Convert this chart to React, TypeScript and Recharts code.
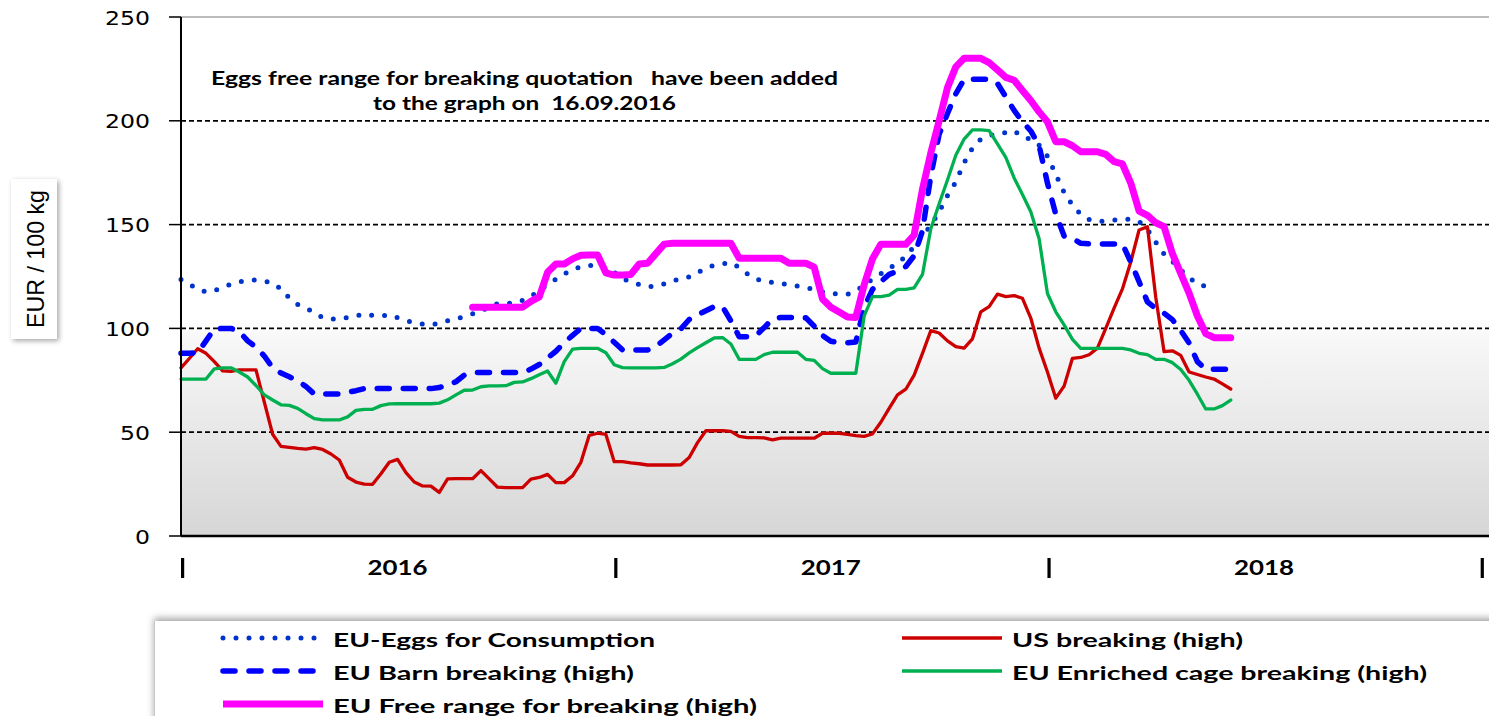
import React from "react";
import { CartesianGrid, Line, LineChart, ReferenceLine, XAxis, YAxis } from "recharts";

const W = 1489;
const H = 716;

// x = week index, 0 = first week of 2016
const weeks = Array.from({ length: 127 }, (_, i) => i);
const years = ["2016", "2017", "2018"];
const yTicks = [0, 50, 100, 150, 200, 250];
const xTicks = [0, 26, 52, 78, 104, 130, 156];

const eggsConsumption = [
  123.5, 121.3, 119, 117.5, 118.3, 119.6, 121.4, 122.4, 123.1, 123.3,
  122.8, 121.9, 119, 114.6, 111.5, 109.6, 107.8, 105.1, 104.5, 104.5,
  105.2, 106, 107, 106.3, 106, 106.5, 105.1, 103.7, 102.8, 102.1,
  101.7, 102.6, 103.7, 104.5, 105.8, 107, 108.2, 110.5, 111.9, 111.9,
  112.3, 113.5, 115.3, 118.5, 121, 123.7, 126.2, 128.4, 129.6, 130.3,
  130, 129, 127, 124, 122.3, 121.2, 120.1, 120.4, 121.5, 123.1,
  123.6, 124.8, 126.8, 129.2, 130.4, 131.1, 131.7, 129.3, 126.2, 123.8,
  122.8, 122.1, 121.6, 121, 120.4, 119.6, 118.7, 117.7, 116.8, 116.5,
  116.4, 118, 120.8, 123.8, 126.3, 128.8, 131.5, 134.7, 139.5, 144.5,
  149.6, 156.2, 164, 170.5, 179.8, 186.9, 191.2, 192.9, 193.5, 194.4,
  195.2, 192.2, 191.1, 188.2, 183, 174.2, 165.5, 159.4, 154.9, 152.5,
  151.6, 151.7, 152.2, 152.6, 152.5, 151.5, 147.7, 141.5, 135.8, 132.3,
  128.2, 124.5, 121.5, 120.2, 119.2,
];

const usBreaking = [
  81, 85.5, 90.2, 88, 84, 79.5, 79.3, 80, 80, 80,
  64.5, 49, 43.2, 42.7, 42.2, 41.8, 42.6, 41.7, 39.5, 36.6,
  28.3, 26, 25, 24.9, 30, 35.5, 36.9, 30.5, 26, 24.1,
  24, 21, 27.5, 27.6, 27.6, 27.6, 31.5, 27.5, 23.5, 23.3,
  23.3, 23.3, 27.4, 28.2, 29.7, 25.7, 25.7, 29, 35.5, 48.5,
  49.5, 48.9, 35.8, 35.8, 35.2, 34.8, 34.2, 34.2, 34.2, 34.2,
  34.3, 37.8, 45, 50.7, 50.7, 50.7, 50.4, 48, 47.4, 47.4,
  47.3, 46.3, 47.1, 47.1, 47.1, 47.1, 47.1, 49.5, 49.5, 49.5,
  49, 48.4, 48, 49.2, 54.8, 61.5, 68, 70.7, 77.5, 88,
  98.9, 97.8, 94, 91.2, 90.5, 95, 108, 110.5, 116.5, 115.3,
  115.8, 114.5, 105, 90.5, 79, 66.4, 72.2, 85.6, 86, 87.3,
  90.5, 100, 109.8, 119, 132, 147.4, 149, 115, 88.8, 89.2,
  87, 79, 77.8, 76.6, 75.6, 73.3, 70.8,
];

const barnBreaking = [
  88, 88, 88.3, 94, 99.8, 100, 100, 98.5, 94, 91,
  86.7, 81, 78.5, 76.7, 74.8, 72, 68.4, 68.4, 68.4, 68.4,
  69.2, 70, 71, 71, 71, 71, 71, 71, 71, 71,
  71, 71.5, 72.8, 74.3, 77.5, 78.7, 78.7, 78.7, 78.7, 78.7,
  78.7, 78.7, 80.4, 82.6, 85.8, 89, 93.2, 96.6, 100, 100,
  100, 97, 93.3, 89.6, 89.6, 89.6, 89.6, 91.3, 94.5, 97.7,
  99.8, 104.3, 106.5, 108.5, 110.5, 110.5, 103.6, 96, 96, 96.5,
  100.4, 104.5, 105.3, 105.3, 105.3, 105.1, 101.1, 96.6, 93.8, 93.1,
  93.1, 93.5, 110, 118.8, 122.5, 126, 127.6, 129.8, 135, 147,
  173.5, 193.5, 203.5, 213, 220, 220, 220, 220, 218, 211.5,
  205, 199.6, 195.1, 188, 170, 155, 144.5, 143.4, 141, 140.7,
  140.7, 140.7, 140.7, 140.7, 132, 122.5, 112.8, 109.5, 107.3, 104.2,
  99, 93, 84, 80.3, 80.3, 80.3, 80.3,
];

const enrichedCage = [
  75.6, 75.6, 75.6, 75.6, 80.5, 81, 81, 79, 76.6, 72.5,
  68, 65.5, 63.2, 62.9, 61.5, 58.9, 56.5, 55.9, 55.9, 55.9,
  57.4, 60.5, 61, 61, 62.8, 63.6, 63.7, 63.7, 63.7, 63.7,
  63.7, 64, 65.6, 68, 70.2, 70.3, 71.9, 72.3, 72.3, 72.4,
  74, 74.2, 75.8, 77.7, 79.5, 73.6, 84, 90, 90.4, 90.4,
  90.4, 88.3, 82.5, 81.1, 81, 81, 81, 81, 81.2, 83,
  85.2, 88.2, 90.7, 93.1, 95.4, 95.6, 92.5, 85.1, 85.1, 85.1,
  87.4, 88.5, 88.5, 88.5, 88.5, 85.1, 84.6, 80.6, 78.4, 78.4,
  78.4, 78.4, 106, 115.3, 115.3, 116, 118.8, 118.8, 119.5, 126,
  148, 160, 171.5, 183.4, 191.2, 195.6, 195.6, 195.3, 188.9, 182.4,
  172.5, 164.5, 156.2, 143.2, 116.8, 108, 101.7, 94.7, 90.4, 90.4,
  90.4, 90.4, 90.4, 90.4, 89.6, 88, 87.4, 85.1, 85.1, 83.5,
  80.2, 75, 68.3, 61.2, 61.2, 62.8, 65.5,
];

// quotation added on 16.09.2016, first plotted week
const freeRangeFrom = 35;
const freeRange = [
  110.2, 110.2, 110.2, 110.2, 110.2, 110.2, 110.2,
  113, 115.2, 127, 131, 131, 133.5, 135.2, 135.4, 135.4, 126.8,
  125.7, 125.7, 126, 131, 131.4, 136, 140.6,
  141, 141, 141, 141, 141, 141, 141, 141,
  133.8, 133.8, 133.8, 133.8, 133.8, 133.8,
  131.4, 131.4, 131.4, 129.5, 114.2, 110.2, 107.9, 105.5, 105.3,
  121, 133.5, 140.5, 140.5, 140.5, 140.5, 145, 167, 184.5, 200,
  216, 226, 230.1, 230.1, 230.1, 228, 224.5, 220.9, 219.5, 214.6,
  209.8, 204.3, 199.5, 189.9, 189.9, 188, 185.1, 185.1, 185.1, 183.8,
  180.3, 179.2, 170, 156.5, 154.5, 150.9, 149, 136, 126.5, 117,
  106, 97.5, 95.5, 95.5, 95.5,
];

const data = weeks.map((w, i) => ({
  week: w,
  eggs: eggsConsumption[i] ?? null,
  us: usBreaking[i] ?? null,
  barn: barnBreaking[i] ?? null,
  cage: enrichedCage[i] ?? null,
  free: i >= freeRangeFrom ? freeRange[i - freeRangeFrom] ?? null : null,
}));

// legend order follows the original workbook (filled row by row, 2 columns)
const series = [
  { key: "eggs", name: "EU-Eggs for Consumption", color: "#0033CC", width: 5, dash: "0 13", textLen: 322 },
  { key: "us", name: "US breaking (high)", color: "#CC0000", width: 3.3, dash: undefined, textLen: 231 },
  { key: "barn", name: "EU Barn breaking (high)", color: "#0000FF", width: 5.5, dash: "12 14", textLen: 301 },
  { key: "cage", name: "EU Enriched cage breaking (high)", color: "#00B050", width: 3.3, dash: undefined, textLen: 415 },
  { key: "free", name: "EU Free range for breaking (high)", color: "#FF00FF", width: 7, dash: undefined, textLen: 424 },
];

const boldFont = "Lato, 'Open Sans', sans-serif";

function YearTick(props: any) {
  const { x, payload } = props;
  const v = payload.value as number;
  if (v % 52 === 0) {
    return <rect x={x} y={558} width={3.2} height={20} fill="#000" />;
  }
  return (
    <text
      x={x}
      y={575}
      textAnchor="middle"
      fontFamily={boldFont}
      fontWeight={700}
      fontSize={21}
      textLength={60}
      lengthAdjust="spacingAndGlyphs"
      fill="#000"
    >
      {years[Math.floor(v / 52)]}
    </text>
  );
}

function ValueTick(props: any) {
  const { x, y, payload } = props;
  const s = String(payload.value);
  return (
    <text
      x={x}
      y={y + 7.5}
      textAnchor="end"
      fontFamily="'DejaVu Sans', Verdana, sans-serif"
      fontSize={20}
      textLength={15 * s.length}
      lengthAdjust="spacingAndGlyphs"
      fill="#000"
    >
      {s}
    </text>
  );
}

function LegendRows() {
  const colX = [223, 902];
  const rowY = [638, 671, 704];
  return (
    <g>
      {series.map((s, i) => {
        const x0 = colX[i % 2];
        const y0 = rowY[Math.floor(i / 2)];
        return (
          <g key={s.key}>
            <line
              x1={x0}
              x2={x0 + 100}
              y1={y0}
              y2={y0}
              stroke={s.color}
              strokeWidth={s.width}
              strokeDasharray={s.dash}
              strokeLinecap={s.dash ? "round" : "butt"}
            />
            <text
              x={x0 + 110}
              y={y0 + 9}
              fontFamily={boldFont}
              fontWeight={700}
              fontSize={19}
              textLength={s.textLen}
              lengthAdjust="spacingAndGlyphs"
              fill="#000"
            >
              {s.name}
            </text>
          </g>
        );
      })}
    </g>
  );
}

export default function App() {
  return (
    <div
      style={{
        position: "absolute",
        left: 0,
        top: 0,
        width: W,
        height: H,
        background: "#fff",
        overflow: "hidden",
      }}
    >
      <LineChart width={W} height={H} data={data} margin={{ top: 17, right: 0, bottom: 120, left: 0 }}>
        <defs>
          <linearGradient id="plotBg" x1="0" y1="0" x2="0" y2="1">
            <stop offset="0" stopColor="#ffffff" />
            <stop offset="0.58" stopColor="#ffffff" />
            <stop offset="0.62" stopColor="#f7f7f7" />
            <stop offset="1" stopColor="#d6d6d6" />
          </linearGradient>
        </defs>
        <CartesianGrid
          vertical={false}
          horizontalValues={[50, 100, 150, 200]}
          stroke="#000"
          strokeWidth={1.8}
          strokeDasharray="5 3"
          fill="url(#plotBg)"
          fillOpacity={1}
        />
        <ReferenceLine y={250} stroke="#a6a6a6" strokeWidth={1.5} />
        <XAxis
          type="number"
          dataKey="week"
          domain={[0, 157]}
          ticks={xTicks}
          interval={0}
          height={60}
          tickLine={false}
          axisLine={{ stroke: "#000", strokeWidth: 2.5 }}
          tick={(p: any) => <YearTick {...p} />}
        />
        <YAxis
          type="number"
          domain={[0, 250]}
          ticks={yTicks}
          interval={0}
          width={181}
          tickSize={12}
          tickMargin={19}
          axisLine={{ stroke: "#000", strokeWidth: 2 }}
          tickLine={{ stroke: "#000", strokeWidth: 1.5 }}
          tick={(p: any) => <ValueTick {...p} />}
        />
        {series.map((s) => (
          <Line
            key={s.key}
            type="linear"
            dataKey={s.key}
            name={s.name}
            stroke={s.color}
            strokeWidth={s.width}
            strokeDasharray={s.dash}
            strokeLinecap="round"
            strokeLinejoin="round"
            dot={false}
            activeDot={false}
            isAnimationActive={false}
          />
        ))}
      </LineChart>

      {/* legend panel */}
      <div
        style={{
          position: "absolute",
          left: 154,
          top: 621,
          width: 1360,
          height: 120,
          background: "#fff",
          borderLeft: "1px solid #c8c8c8",
          boxShadow: "0 -3px 7px rgba(0,0,0,0.35)",
        }}
      />
      {/* y axis title box */}
      <div
        style={{
          position: "absolute",
          left: 11,
          top: 179,
          width: 46,
          height: 160,
          background: "#fff",
          boxShadow: "2px 2px 5px rgba(0,0,0,0.35)",
        }}
      />
      <svg
        width={W}
        height={H}
        style={{ position: "absolute", left: 0, top: 0, pointerEvents: "none" }}
      >
        <text
          x={44}
          y={259}
          transform="rotate(-90 44 259)"
          textAnchor="middle"
          fontFamily="'Liberation Sans', Arial, sans-serif"
          fontSize={24}
          textLength={138}
          lengthAdjust="spacingAndGlyphs"
          fill="#000"
        >
          EUR / 100 kg
        </text>
        <text
          x={524.5}
          y={85}
          textAnchor="middle"
          fontFamily={boldFont}
          fontWeight={700}
          fontSize={18}
          textLength={627}
          lengthAdjust="spacingAndGlyphs"
          style={{ whiteSpace: "pre" }}
          fill="#000"
        >
          {"Eggs free range for breaking quotation   have been added"}
        </text>
        <text
          x={524.5}
          y={110}
          textAnchor="middle"
          fontFamily={boldFont}
          fontWeight={700}
          fontSize={18}
          textLength={303}
          lengthAdjust="spacingAndGlyphs"
          style={{ whiteSpace: "pre" }}
          fill="#000"
        >
          {"to the graph on  16.09.2016"}
        </text>
        <LegendRows />
      </svg>
    </div>
  );
}
